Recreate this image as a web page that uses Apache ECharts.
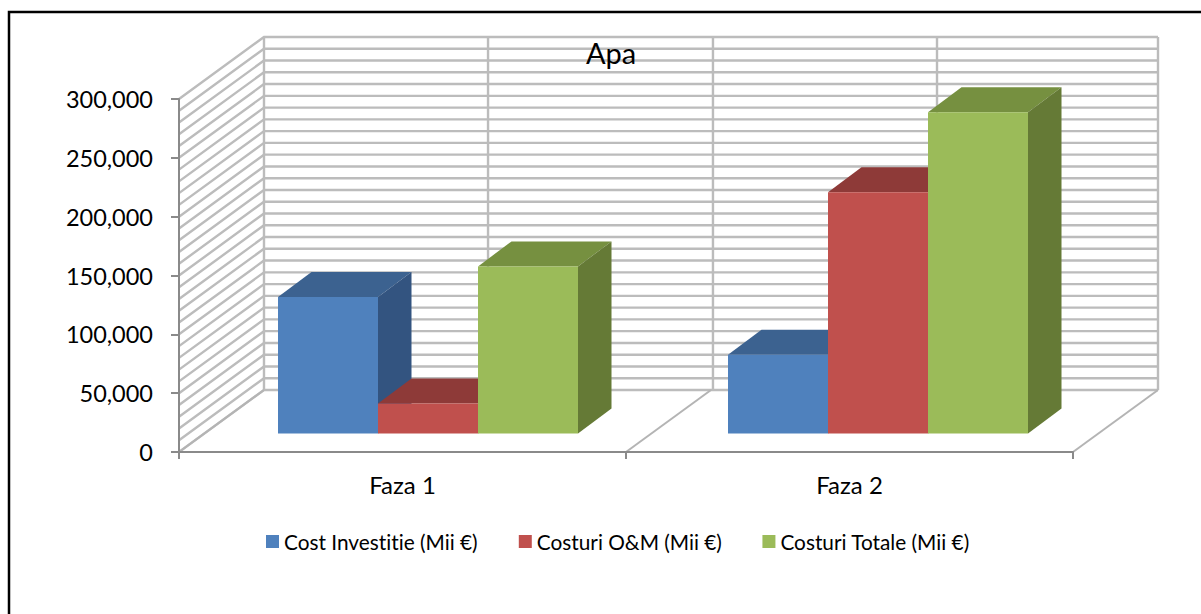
<!DOCTYPE html>
<html>
<head>
<meta charset="utf-8">
<style>html,body{margin:0;padding:0;background:#fff}#c{width:1201px;height:614px}#c text{font-variant-ligatures:none}</style>
<script src="https://cdn.jsdelivr.net/npm/echarts@6/dist/echarts.min.js"></script>
</head>
<body>
<div id="c"></div>
<script>
const categories = ['Faza 1', 'Faza 2'];
const costInvestitie = [116000, 67000];
const costuriOM = [25500, 205000];
const costuriTotale = [142000, 273000];
const wallLevels = [0, 10000, 20000, 30000, 40000, 50000, 60000, 70000, 80000, 90000, 100000, 110000, 120000, 130000, 140000, 150000, 160000, 170000, 180000, 190000, 200000, 210000, 220000, 230000, 240000, 250000, 260000, 270000, 280000, 290000, 300000];
const wallColumns = [0, 0.2506, 0.5022, 0.7528, 1];
const floorLines = [0, 0.5, 1];

const FONT = 'Lato';
const WALL = [85, -62];
const BAR_DEPTH = [33.5, -25];
const BAR_PLANE = [24, -18.5];
const BAR_W = 100;
const SPREAD = 450 / 447;
const GRID = '#bcbcbc';
const AXIS = '#8a8a8a';

function wallSeries() {
  return [
    {
      type: 'custom', silent: true, z: 1, legendHoverLink: false,
      data: wallLevels.map(v => [0, v]),
      renderItem(params, api) {
        const cs = params.coordSys;
        const y = api.coord([0, api.value(1)])[1];
        return {
          type: 'polyline', silent: true,
          shape: { points: [[cs.x, y], [cs.x + WALL[0], y + WALL[1]], [cs.x + cs.width + WALL[0], y + WALL[1]]] },
          style: { stroke: GRID, lineWidth: 2.4, fill: null }
        };
      }
    },
    {
      type: 'custom', silent: true, z: 1,
      data: wallColumns.map(f => [0, f]),
      renderItem(params, api) {
        const cs = params.coordSys;
        const x = cs.x + WALL[0] + api.value(1) * cs.width;
        return {
          type: 'line', silent: true,
          shape: { x1: x, y1: cs.y + WALL[1], x2: x, y2: cs.y + cs.height + WALL[1] },
          style: { stroke: GRID, lineWidth: 2.4 }
        };
      }
    },
    {
      type: 'custom', silent: true, z: 1,
      data: floorLines.map(f => [0, f]),
      renderItem(params, api) {
        const cs = params.coordSys;
        const x = cs.x + api.value(1) * cs.width;
        const y = cs.y + cs.height;
        return {
          type: 'line', silent: true,
          shape: { x1: x, y1: y, x2: x + WALL[0], y2: y + WALL[1] },
          style: { stroke: '#b4b4b4', lineWidth: 2 }
        };
      }
    }
  ];
}

function barSeries(name, values, slot, front, top, side) {
  return {
    type: 'custom', name, z: 3,
    itemStyle: { color: front },
    data: values.map((v, i) => [i, v]),
    encode: { x: 0, y: 1 },
    renderItem(params, api) {
      const cs = params.coordSys;
      const p = api.coord([api.value(0), api.value(1)]);
      const b = api.coord([api.value(0), 0]);
      const cx = cs.x + BAR_PLANE[0] + (p[0] - cs.x) * SPREAD;
      const x0 = cx + (slot - 1.5) * BAR_W;
      const x1 = x0 + BAR_W;
      const yT = p[1] + BAR_PLANE[1];
      const yB = b[1] + BAR_PLANE[1];
      const dx = BAR_DEPTH[0], dy = BAR_DEPTH[1];
      return {
        type: 'group',
        children: [
          { type: 'polygon', shape: { points: [[x0, yT], [x1, yT], [x1 + dx, yT + dy], [x0 + dx, yT + dy]] }, style: { fill: top } },
          { type: 'polygon', shape: { points: [[x1, yT], [x1 + dx, yT + dy], [x1 + dx, yB + dy], [x1, yB]] }, style: { fill: side } },
          { type: 'rect', shape: { x: x0, y: yT, width: BAR_W, height: yB - yT }, style: { fill: front } }
        ]
      };
    }
  };
}

const chart = echarts.init(document.getElementById('c'), null, { renderer: 'svg' });
chart.setOption({
  animation: false,
  backgroundColor: '#ffffff',
  title: {
    text: 'Apa', left: 611, top: 38, textAlign: 'center', z: 6,
    padding: 0,
    textStyle: { fontFamily: FONT, fontSize: 29, fontWeight: 'normal', color: '#000' }
  },
  legend: {
    left: 266, top: 531, itemWidth: 13, itemHeight: 13, itemGap: 40.5, icon: 'rect', selectedMode: false, padding: 0,
    data: ['Cost Investitie (Mii €)', 'Costuri O&M (Mii €)', 'Costuri Totale (Mii €)'],
    textStyle: { fontFamily: FONT, fontSize: 20.8, color: '#000' }
  },
  grid: { left: 179, top: 99, width: 894, height: 353 },
  xAxis: {
    type: 'category', data: categories, z: 5,
    axisLine: { lineStyle: { color: AXIS, width: 2 } },
    axisTick: { show: true, alignWithLabel: false, length: 7, lineStyle: { color: AXIS, width: 2 } },
    axisLabel: { margin: 20, fontFamily: FONT, fontSize: 24, color: '#000' },
    splitLine: { show: false }
  },
  yAxis: {
    type: 'value', min: 0, max: 300000, interval: 50000, z: 5,
    axisLine: { show: true, lineStyle: { color: AXIS, width: 2 } },
    axisTick: { show: true, length: 8, lineStyle: { color: AXIS, width: 2 } },
    axisLabel: {
      margin: 26, fontFamily: FONT, fontSize: 23.5, color: '#000', padding: [8, 0, 0, 0],
      formatter: v => v.toLocaleString('en-US')
    },
    splitLine: { show: false }
  },
  graphic: [{
    type: 'polyline', silent: true, z: 10,
    shape: { points: [[9, 614], [9, 12], [1201, 12]] },
    style: { stroke: '#000', lineWidth: 2.5, fill: null }
  }],
  series: [
    ...wallSeries(),
    barSeries('Cost Investitie (Mii €)', costInvestitie, 0, '#4F81BD', '#3C6290', '#335480'),
    barSeries('Costuri O&M (Mii €)', costuriOM, 1, '#C0504D', '#8E3A38', '#7E3331'),
    barSeries('Costuri Totale (Mii €)', costuriTotale, 2, '#9BBB59', '#769040', '#657A36')
  ]
});
</script>
</body>
</html>
